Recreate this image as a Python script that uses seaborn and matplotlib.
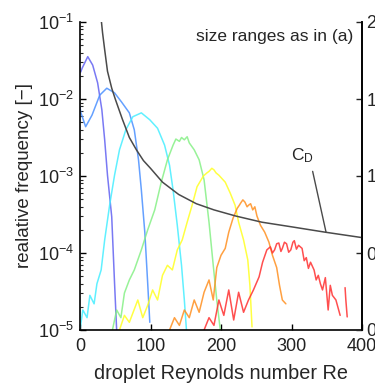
import numpy as np
import pandas as pd
import matplotlib
matplotlib.use("Agg")
import matplotlib.pyplot as plt
from matplotlib.ticker import LogLocator, NullFormatter, FixedLocator
import seaborn as sns

# Droplet Reynolds number histograms, one per droplet size range (log10 of relative frequency)
re_1 = [1, 3, 11, 18, 25, 31, 35, 39, 45, 49, 52]
lf_1 = [-1.65, -1.60, -1.45, -1.56, -1.79, -2.14, -2.53, -2.99, -3.53, -4.39, -5.0]

re_2 = [0, 1, 8, 17, 28, 38, 49, 59, 70, 77, 83, 87, 92, 96, 99]
lf_2 = [-2.10, -2.17, -2.36, -2.21, -1.95, -1.86, -1.92, -2.04, -2.18, -2.40, -2.79, -3.18, -3.74, -4.39, -4.90]

re_3 = [0, 4, 10, 14, 20, 24, 30, 35, 42, 49, 56, 65, 75, 87, 99, 110, 120, 127, 132, 138, 144, 148, 151]
lf_3 = [-5.0, -4.74, -4.84, -4.55, -4.66, -4.40, -4.22, -3.83, -3.38, -2.99, -2.66, -2.40, -2.23, -2.18,
        -2.27, -2.38, -2.60, -2.86, -3.18, -3.64, -4.16, -4.61, -5.0]

re_4 = [46, 52, 58, 63, 70, 77, 87, 96, 106, 115, 124, 132, 136, 141, 144, 148, 152, 155, 162, 169,
        176, 183, 189, 194, 199]
lf_4 = [-5.0, -4.74, -4.84, -4.52, -4.35, -4.22, -3.96, -3.70, -3.44, -3.09, -2.79, -2.60, -2.52, -2.55,
        -2.50, -2.53, -2.49, -2.57, -2.66, -2.79, -3.05, -3.60, -4.16, -4.61, -5.0]

re_5 = [56, 63, 70, 82, 89, 96, 103, 110, 117, 124, 131, 138, 145, 152, 159, 166, 175, 180, 183, 187,
        190, 193, 197, 206, 213, 220, 225, 232, 238, 241, 244]
lf_5 = [-5.0, -4.81, -4.90, -4.61, -4.84, -4.68, -4.48, -4.61, -4.29, -4.16, -4.22, -3.96, -3.83, -3.60,
        -3.38, -3.14, -3.00, -2.96, -2.94, -2.90, -2.92, -2.96, -2.99, -3.08, -3.22, -3.38, -3.60, -3.83,
        -4.09, -4.42, -4.96]

re_6 = [127, 134, 141, 148, 155, 162, 169, 176, 183, 189, 194, 200, 206, 211, 217, 223, 226, 228, 231,
        234, 237, 239, 242, 245, 248, 251, 256, 262, 268, 273, 279, 283, 287, 292]
lf_6 = [-5.0, -4.84, -4.94, -4.74, -4.84, -4.61, -4.77, -4.51, -4.35, -4.61, -4.19, -4.03, -3.94, -3.73,
        -3.55, -3.42, -3.38, -3.35, -3.31, -3.34, -3.40, -3.38, -3.36, -3.44, -3.40, -3.52, -3.64, -3.73,
        -3.86, -4.03, -4.19, -4.42, -4.61, -4.66]

re_7 = [176, 183, 190, 197, 204, 211, 218, 225, 232, 239, 246, 254, 259, 265, 270, 273, 276, 279, 282,
        285, 287, 290, 293, 296, 299, 302, 304, 307, 310, 315, 318, 321, 324, 327, 332, 335, 338, 341,
        344, 348, 352, 355, 358, 363, 369]
lf_7 = [-5.0, -4.84, -4.94, -4.61, -4.81, -4.48, -4.87, -4.51, -4.77, -4.61, -4.48, -4.31, -4.12, -3.96,
        -3.92, -4.00, -3.96, -3.88, -3.87, -3.98, -3.94, -3.86, -3.88, -3.99, -3.96, -3.86, -3.84, -3.95,
        -3.90, -3.94, -4.10, -4.06, -4.20, -4.12, -4.22, -4.35, -4.29, -4.40, -4.48, -4.32, -4.74, -4.42,
        -4.55, -4.61, -4.81]
re_7b = [376, 377, 379]
lf_7b = [-4.45, -4.60, -4.83]

size_colors = ["#6262f2", "#4a90ff", "#45eeff", "#86f086", "#ffff22", "#ff9020", "#ff3030"]

# Drag coefficient of a sphere against Re (right axis)
cd_re = [30, 32, 35, 39, 45, 50, 60, 70, 80, 90, 100, 117, 140, 165, 190, 221, 258, 300, 348, 400]
cd_val = [2.02, 1.93, 1.82, 1.68, 1.57, 1.50, 1.37, 1.25, 1.17, 1.10, 1.05, 0.96, 0.88, 0.82, 0.78,
          0.74, 0.70, 0.67, 0.635, 0.60]

x_ticks = [0, 100, 200, 300, 400]
y_decades = [1e-5, 1e-4, 1e-3, 1e-2, 1e-1]
cd_ticks = [0, 0.5, 1, 1.5, 2]
cd_tick_labels = ["0", "0.5", "1", "1.5", "2"]

sns.set_style("white")
plt.rcParams["font.family"] = ["Liberation Sans", "DejaVu Sans"]
plt.rcParams["mathtext.fontset"] = "custom"
plt.rcParams["mathtext.rm"] = "Liberation Sans"
plt.rcParams["mathtext.it"] = "Liberation Sans"

fig = plt.figure(figsize=(3.75, 3.84), dpi=100)
ax = fig.add_axes([80 / 375, 54 / 384, 282 / 375, 308 / 384])

series = [(re_1, lf_1), (re_2, lf_2), (re_3, lf_3), (re_4, lf_4), (re_5, lf_5), (re_6, lf_6), (re_7, lf_7)]
for (re_vals, lf_vals), col in zip(series, size_colors):
    df = pd.DataFrame({"Re": re_vals, "f": 10.0 ** np.asarray(lf_vals)})
    sns.lineplot(data=df, x="Re", y="f", ax=ax, color=col, lw=1.1, sort=False,
                 estimator=None, alpha=0.85, legend=False)
df_tail = pd.DataFrame({"Re": re_7b, "f": 10.0 ** np.asarray(lf_7b)})
sns.lineplot(data=df_tail, x="Re", y="f", ax=ax, color=size_colors[-1], lw=1.1, sort=False,
             estimator=None, alpha=0.85, legend=False)

ax.set_yscale("log")
ax.set_xlim(0, 400)
ax.set_ylim(1e-5, 1e-1)
ax.set_xticks(x_ticks)
ax.set_yticks(y_decades)
ax.yaxis.set_minor_locator(LogLocator(base=10, subs=np.arange(2, 10)))
ax.yaxis.set_minor_formatter(NullFormatter())
ax.set_yticklabels([r"$10^{-5}$", r"$10^{-4}$", r"$10^{-3}$", r"$10^{-2}$", r"$10^{-1}$"])
ax.tick_params(axis="both", which="major", direction="in", length=4, width=1, labelsize=13,
               top=False, right=False, left=True, bottom=True, colors="black")
ax.tick_params(axis="y", which="minor", direction="in", length=2.2, width=0.8, left=True)
ax.tick_params(axis="x", pad=6)
ax.tick_params(axis="y", pad=4)
for lab in ax.get_xticklabels() + ax.get_yticklabels():
    lab.set_color("#222222")
ax.set_xlabel("droplet Reynolds number Re", fontsize=14.3)
ax.set_ylabel("realative frequency [\u2212]", fontsize=13.5)
ax.xaxis.set_label_coords(0.5, -0.11)
ax.yaxis.set_label_coords(-0.165, 0.5)
for side in ["left", "bottom", "right"]:
    ax.spines[side].set_visible(True)
    ax.spines[side].set_color("black")
    ax.spines[side].set_linewidth(1.2)
ax.spines["top"].set_visible(False)

ax2 = ax.twinx()
df_cd = pd.DataFrame({"Re": cd_re, "cd": cd_val})
sns.lineplot(data=df_cd, x="Re", y="cd", ax=ax2, color="#4a4a4a", lw=1.1, sort=False,
             estimator=None, legend=False)
ax2.set_ylim(0, 2)
ax2.set_xlim(0, 400)
ax2.yaxis.set_major_locator(FixedLocator(cd_ticks))
ax2.set_yticklabels(cd_tick_labels)
ax2.set_ylabel("")
ax2.tick_params(axis="y", direction="in", length=4, width=1, labelsize=13, pad=3)
ax2.spines["top"].set_visible(False)
ax2.spines["left"].set_visible(False)
ax2.spines["bottom"].set_visible(False)
ax2.spines["right"].set_visible(True)
ax2.spines["right"].set_color("black")
ax2.spines["right"].set_linewidth(1.2)

ax2.plot([330, 349], [1.03, 0.635], color="#4a4a4a", lw=1.0)
ax2.text(316, 1.07, r"C$_\mathrm{D}$", fontsize=12.5, ha="center", va="bottom")
ax.text(0.97, 0.952, "size ranges as in (a)", transform=ax.transAxes, fontsize=12.5,
        ha="right", va="center")

fig.savefig("out.png", dpi=100)
